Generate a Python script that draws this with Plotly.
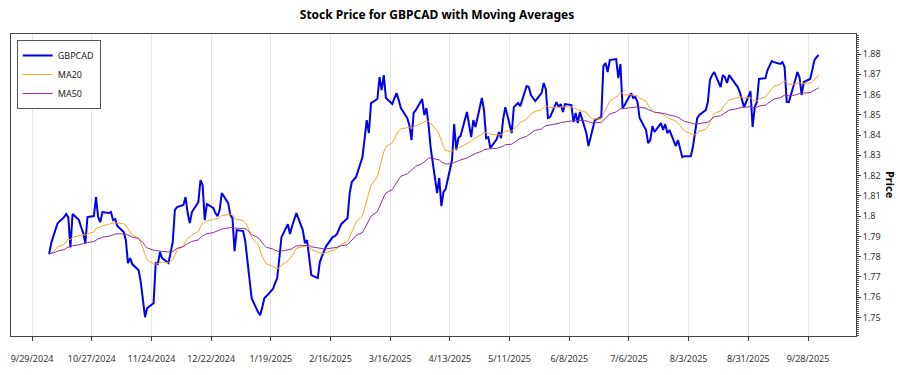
import pandas as pd
import plotly.graph_objects as go

# ---- data ----
start_date = "2024-10-07"          # first trading day shown
prices = [
    1.7812, 1.7867, 1.7901, 1.7931, 1.7965,
    1.7995, 1.8010, 1.7995, 1.7847, 1.8010,
    1.7980, 1.7946, 1.7916, 1.7867, 1.7995,
    1.8000, 1.8094, 1.7995, 1.7970, 1.8020,
    1.8015, 1.8020, 1.7980, 1.7985, 1.7951,
    1.7921, 1.7881, 1.7768, 1.7793, 1.7763,
    1.7733, 1.7674, 1.7570, 1.7501, 1.7546,
    1.7570, 1.7768, 1.7763, 1.7822, 1.7793,
    1.7768, 1.7817, 1.7872, 1.8030, 1.8044,
    1.8055, 1.8094, 1.8015, 1.7965, 1.8020,
    1.8069, 1.8178, 1.8153, 1.7980, 1.8059,
    1.8040, 1.8015, 1.8000, 1.8030, 1.8114,
    1.8064, 1.8005, 1.7990, 1.7827, 1.7931,
    1.7926, 1.7877, 1.7783, 1.7684, 1.7595,
    1.7526, 1.7511, 1.7551, 1.7595, 1.7605,
    1.7640, 1.7669, 1.7694, 1.7793, 1.7896,
    1.7960, 1.7911, 1.7951, 1.7980, 1.8015,
    1.7931, 1.7867, 1.7881, 1.7793, 1.7709,
    1.7694, 1.7773, 1.7802, 1.7827, 1.7852,
    1.7896, 1.7901, 1.7911, 1.7936, 1.7960,
    1.7990, 1.8114, 1.8168, 1.8183, 1.8193,
    1.8291, 1.8390, 1.8474, 1.8410, 1.8558,
    1.8578, 1.8686, 1.8622, 1.8696, 1.8583,
    1.8553, 1.8583, 1.8607, 1.8573, 1.8533,
    1.8484, 1.8449, 1.8375, 1.8509, 1.8523,
    1.8578, 1.8499, 1.8533, 1.8449, 1.8336,
    1.8114, 1.8188, 1.8049, 1.8119, 1.8133,
    1.8277, 1.8454, 1.8326, 1.8385, 1.8395,
    1.8514, 1.8449, 1.8390, 1.8474, 1.8440,
    1.8583, 1.8523, 1.8385, 1.8390, 1.8336,
    1.8380, 1.8415, 1.8385, 1.8479, 1.8538,
    1.8410, 1.8538, 1.8548, 1.8558, 1.8543,
    1.8642, 1.8637, 1.8598, 1.8583, 1.8568,
    1.8607, 1.8657, 1.8627, 1.8484, 1.8489,
    1.8563, 1.8538, 1.8553, 1.8514, 1.8553,
    1.8548, 1.8464, 1.8509, 1.8459, 1.8514,
    1.8410, 1.8346, 1.8385, 1.8425, 1.8474,
    1.8489, 1.8741, 1.8756, 1.8711, 1.8770,
    1.8775, 1.8681, 1.8751, 1.8533, 1.8548,
    1.8607, 1.8583, 1.8588, 1.8563, 1.8484,
    1.8425, 1.8360, 1.8375, 1.8444, 1.8415,
    1.8459, 1.8425, 1.8454, 1.8410, 1.8425,
    1.8346, 1.8375, 1.8326, 1.8291, 1.8296,
    1.8296, 1.8341, 1.8415, 1.8484, 1.8499,
    1.8523, 1.8563, 1.8672, 1.8696, 1.8711,
    1.8637, 1.8696, 1.8686, 1.8657, 1.8696,
    1.8652, 1.8637, 1.8612, 1.8573, 1.8538,
    1.8617, 1.8440, 1.8538, 1.8563, 1.8677,
    1.8681, 1.8721, 1.8741, 1.8765, 1.8760,
    1.8751, 1.8760, 1.8736, 1.8563, 1.8563,
    1.8672, 1.8711, 1.8686, 1.8598, 1.8662,
    1.8677, 1.8721, 1.8770, 1.8785, 1.8795,
]
series_names = ["GBPCAD", "MA20", "MA50"]
ma_spans = [20, 50]
y_title = "Price"

dates = pd.bdate_range(start=start_date, periods=len(prices))
price_s = pd.Series(prices, index=dates)
ma20 = price_s.ewm(span=ma_spans[0], adjust=False).mean()
ma50 = price_s.ewm(span=ma_spans[1], adjust=False).mean()

FONT = "Noto Sans, Open Sans, sans-serif"

fig = go.Figure()
fig.add_trace(go.Scatter(x=dates, y=price_s.values, mode="lines", name=series_names[0],
                         line=dict(color="#0000EE", width=2)))
fig.add_trace(go.Scatter(x=dates, y=ma20.values, mode="lines", name=series_names[1],
                         line=dict(color="#F5A623", width=1)))
fig.add_trace(go.Scatter(x=dates, y=ma50.values, mode="lines", name=series_names[2],
                         line=dict(color="#8E2E9E", width=1)))

fig.update_layout(
    width=900, height=375,
    margin=dict(l=11, r=44, t=34, b=39, autoexpand=False),
    paper_bgcolor="white", plot_bgcolor="white",
    font=dict(family=FONT, size=9, color="#333333"),
    title=dict(text="<b>Stock Price for GBPCAD with Moving Averages</b>",
               x=0.4856, xanchor="center", y=0.96, yanchor="middle", yref="container",
               font=dict(family=FONT, size=12, color="#000000")),
    showlegend=True,
    legend=dict(x=0.0068, y=0.98, xanchor="left", yanchor="top",
                bgcolor="white", bordercolor="#555555", borderwidth=1,
                font=dict(family=FONT, size=9, color="#222222")),
    xaxis=dict(type="date",
               range=["2024-09-19 03:00", "2025-10-20 12:00"],
               tick0="2024-09-29", dtick=28 * 86400000,
               tickformat="%-m/%-d/%Y",
               ticks="outside", ticklen=4, tickcolor="#333333",
               ticklabelstandoff=10,
               showgrid=True, gridcolor="#E6E6E6", gridwidth=1,
               showline=True, linecolor="#444444", linewidth=1, mirror=True,
               zeroline=False),
    yaxis=dict(side="right",
               range=[1.7408, 1.8899],
               tick0=1.75, dtick=0.01, tickformat=".2~f",
               ticks="outside", ticklen=4, tickcolor="#333333",
               minor=dict(dtick=0.001, ticks="outside", ticklen=2, tickcolor="#555555", showgrid=False),
               showgrid=False,
               showline=True, linecolor="#444444", linewidth=1, mirror=True,
               zeroline=False),
    annotations=[dict(text="<b>" + y_title + "</b>", textangle=90, xref="paper", yref="paper",
                      x=1.0414, y=0.5, xanchor="center", yanchor="middle", showarrow=False,
                      font=dict(family=FONT, size=11, color="#000000"))],
)

fig.write_html("out.html",
               config={"displayModeBar": False},
               post_script="document.body.style.margin='0px';document.body.style.padding='0px';")
